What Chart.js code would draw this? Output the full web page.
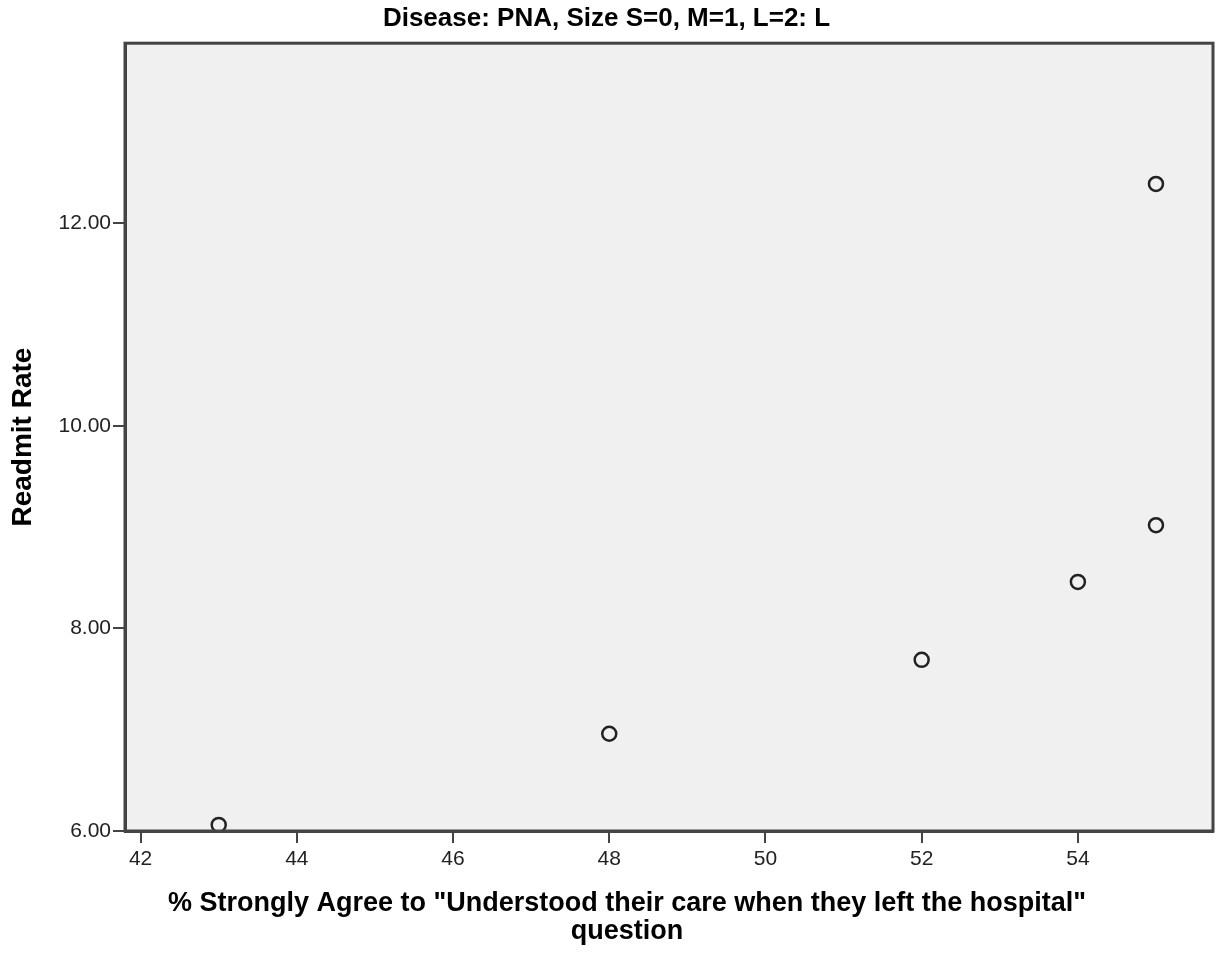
<!DOCTYPE html>
<html>
<head>
<meta charset="utf-8">
<script src="https://cdn.jsdelivr.net/npm/chart.js@4"></script>
<style>
  html, body { margin: 0; padding: 0; background: #fff; }
  #wrap { width: 1216px; height: 955px; }
</style>
</head>
<body>
<div id="wrap"><canvas id="scatterChart"></canvas></div>
<script>
// Data
const understoodPct = [43, 48, 52, 54, 55, 55];
const readmitRate = [6.06, 6.96, 7.69, 8.46, 9.02, 12.39];
const xTitleLines = ['% Strongly Agree to "Understood their care when they left the hospital"', 'question'];

const FONT = "'Liberation Sans', Arial, sans-serif";

// plot background + frame, and the x axis title (SPSS puts it left of center)
const framePlugin = {
	id: 'frame',
	beforeDraw(chart) {
		const a = chart.chartArea;
		const ctx = chart.ctx;
		ctx.save();
		ctx.fillStyle = '#f0f0f0';
		ctx.fillRect(a.left, a.top, a.right - a.left, a.bottom - a.top);
		ctx.restore();
	},
	afterDraw(chart) {
		const a = chart.chartArea;
		const ctx = chart.ctx;
		ctx.save();
		ctx.strokeStyle = '#444';
		ctx.lineWidth = 3;
		ctx.strokeRect(a.left, a.top, a.right - a.left, a.bottom - a.top);
		ctx.fillStyle = '#000';
		ctx.font = 'bold 27px ' + FONT;
		ctx.textAlign = 'center';
		ctx.textBaseline = 'middle';
		ctx.fillText(xTitleLines[0], 627, 904);
		ctx.fillText(xTitleLines[1], 627, 932);
		ctx.restore();
	}
};

const ctxScatter = document.getElementById('scatterChart').getContext('2d');
const scatterChart = new Chart(ctxScatter, {
	type: 'scatter',
	data: {
		datasets: [{
			label: 'Readmit Rate',
			data: understoodPct.map((x, i) => ({ x: x, y: readmitRate[i] })),
			pointRadius: 7,
			pointHoverRadius: 7,
			borderWidth: 2.5,
			borderColor: '#222',
			backgroundColor: 'rgba(0,0,0,0)'
		}]
	},
	options: {
		responsive: true,
		maintainAspectRatio: false,
		animation: false,
		layout: {
			autoPadding: false,
			padding: { top: 0, right: 3, left: 0, bottom: 0 }
		},
		plugins: {
			legend: { display: false },
			tooltip: { enabled: false },
			title: {
				display: true,
				text: 'Disease: PNA, Size S=0, M=1, L=2: L',
				color: '#000',
				font: { family: FONT, size: 26, weight: 'bold' },
				padding: { top: 3, bottom: 9 }
			}
		},
		scales: {
			x: {
				type: 'linear',
				min: 41.8,
				max: 55.73,
				afterFit(scale) { scale.height = 124; },
				ticks: {
					stepSize: 2,
					includeBounds: false,
					color: '#222',
					padding: 4,
					font: { family: FONT, size: 21 }
				},
				grid: {
					drawOnChartArea: false,
					drawTicks: true,
					tickLength: 12,
					color: '#444',
					lineWidth: 2
				},
				border: { display: true, color: '#444', width: 3 }
			},
			y: {
				type: 'linear',
				min: 6,
				max: 13.78,
				afterFit(scale) { scale.width = 125; },
				ticks: {
					stepSize: 2,
					includeBounds: false,
					color: '#222',
					padding: 2,
					font: { family: FONT, size: 21 },
					callback: (v) => v.toFixed(2)
				},
				grid: {
					drawOnChartArea: false,
					drawTicks: true,
					tickLength: 12,
					color: '#444',
					lineWidth: 2
				},
				border: { display: true, color: '#444', width: 3 },
				title: {
					display: true,
					text: 'Readmit Rate',
					color: '#000',
					font: { family: FONT, size: 28, weight: 'bold' },
					padding: { top: 6, bottom: 0 }
				}
			}
		}
	},
	plugins: [framePlugin]
});
</script>
</body>
</html>
